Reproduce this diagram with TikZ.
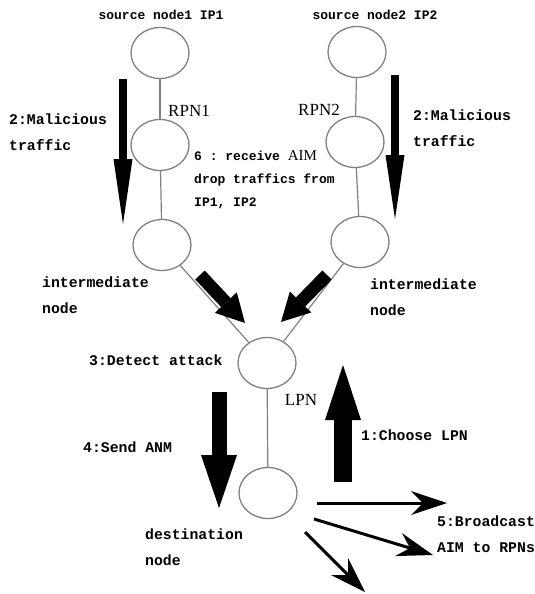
\documentclass[tikz,border=0pt]{standalone}
\usepackage{fontspec}
\setmainfont{Liberation Serif}
\setmonofont{Liberation Mono}
\usetikzlibrary{shapes.geometric,arrows.meta}
\tikzset{
  nd/.style={draw=gray, line width=1.3pt, ellipse, minimum width=58pt, minimum height=51pt, inner sep=0pt},
  lbl/.style={font=\ttfamily\bfseries\fontsize{14.8}{26}\selectfont, align=left, inner sep=0pt},
  sml/.style={font=\ttfamily\bfseries\fontsize{13}{23}\selectfont, align=left, inner sep=0pt},
  tag/.style={font=\fontsize{17}{19}\selectfont, inner sep=0pt},
  link/.style={draw=gray, line width=1.2pt},
  bigarr/.style n args={3}{line width=#1, -{Triangle[length=#2, width=#3, line width=0pt]}},
  bcast/.style={line width=3pt, -{Stealth[length=36pt, width=24pt, inset=12pt, line width=0pt]}}
}
\begin{document}
\begin{tikzpicture}[x=1pt, y=-1pt]
\useasboundingbox (0,0) rectangle (535,594);
% nodes
        \node(S1)[nd] at (160,53){};
        \node(S2)[nd] at (357,52){};
        \node(R1)[nd] at (160,145){};
        \node(R2)[nd] at (355,142){};
        \node(I1)[nd] at (162,245){};
        \node(I2)[nd] at (360,242){};
        \node(L)[nd] at (267,363){};
        \node(D)[nd] at (268,493){};
\draw[link](S1)--(R1);
\draw[link](R1)--(I1);
\draw[link](I1)--(L);
\draw[link](S2)--(R2);
\draw[link](R2)--(I2);
\draw[link](I2)--(L);
\draw[link](L)--(D);
% labels
        \node(tS1)[sml] at (161,15){source node1 IP1};
        \node(tS2)[sml] at (375,15){source node2 IP2};
        \node(tR1)[tag] at (189,111){RPN1};
        \node(tR2)[tag] at (319,110){RPN2};
        \node(tL)[tag] at (301,400){LPN};
        \node(tM1)[lbl, anchor=west] at (9,132){2:Malicious\\traffic};
        \node(tM2)[lbl, anchor=west] at (413,128){2:Malicious\\traffic};
        \node(tAIM)[sml, anchor=west] at (194,180){6 : receive {\rmfamily\mdseries\fontsize{15}{23}\selectfont AIM}\\drop traffics from\\IP1, IP2};
        \node(tI1)[lbl, anchor=west] at (42,295){intermediate\\node};
        \node(tI2)[lbl, anchor=west] at (370,297){intermediate\\node};
        \node(tDet)[lbl, anchor=west] at (89,360){3:Detect attack};
        \node(tCh)[lbl, anchor=west] at (361,435){1:Choose LPN};
        \node(tANM)[lbl, anchor=west] at (83,447){4:Send ANM};
        \node(tD)[lbl, anchor=west] at (145,547){destination\\node};
        \node(tB)[lbl, anchor=west] at (437,534){5:Broadcast\\AIM to RPNs};
% arrows
\coordinate(m1a) at (123,79); \coordinate(m1b) at (123,224);
\coordinate(m2a) at (395,75); \coordinate(m2b) at (395,219);
\coordinate(g1a) at (200,275); \coordinate(g1b) at (245,323);
\coordinate(g2a) at (327,275); \coordinate(g2b) at (281,322);
\coordinate(ua) at (343,482); \coordinate(ub) at (343,365);
\coordinate(da) at (219,392); \coordinate(db) at (219,508);
\coordinate(b1a) at (317,503); \coordinate(b1b) at (447,503);
\coordinate(b2a) at (314,519); \coordinate(b2b) at (433,555);
\coordinate(b3a) at (305,532); \coordinate(b3b) at (365,592);
\draw[bigarr={8.5pt}{65pt}{19pt}](m1a)--(m1b);
\draw[bigarr={8.5pt}{64pt}{19pt}](m2a)--(m2b);
\draw[bigarr={13pt}{28pt}{30pt}](g1a)--(g1b);
\draw[bigarr={13pt}{28pt}{30pt}](g2a)--(g2b);
\draw[bigarr={18pt}{55pt}{36pt}](ua)--(ub);
\draw[bigarr={15pt}{53pt}{36pt}](da)--(db);
\draw[bcast](b1a)--(b1b);
\draw[bcast](b2a)--(b2b);
\draw[bcast](b3a)--(b3b);
    \end{tikzpicture}
\end{document}
